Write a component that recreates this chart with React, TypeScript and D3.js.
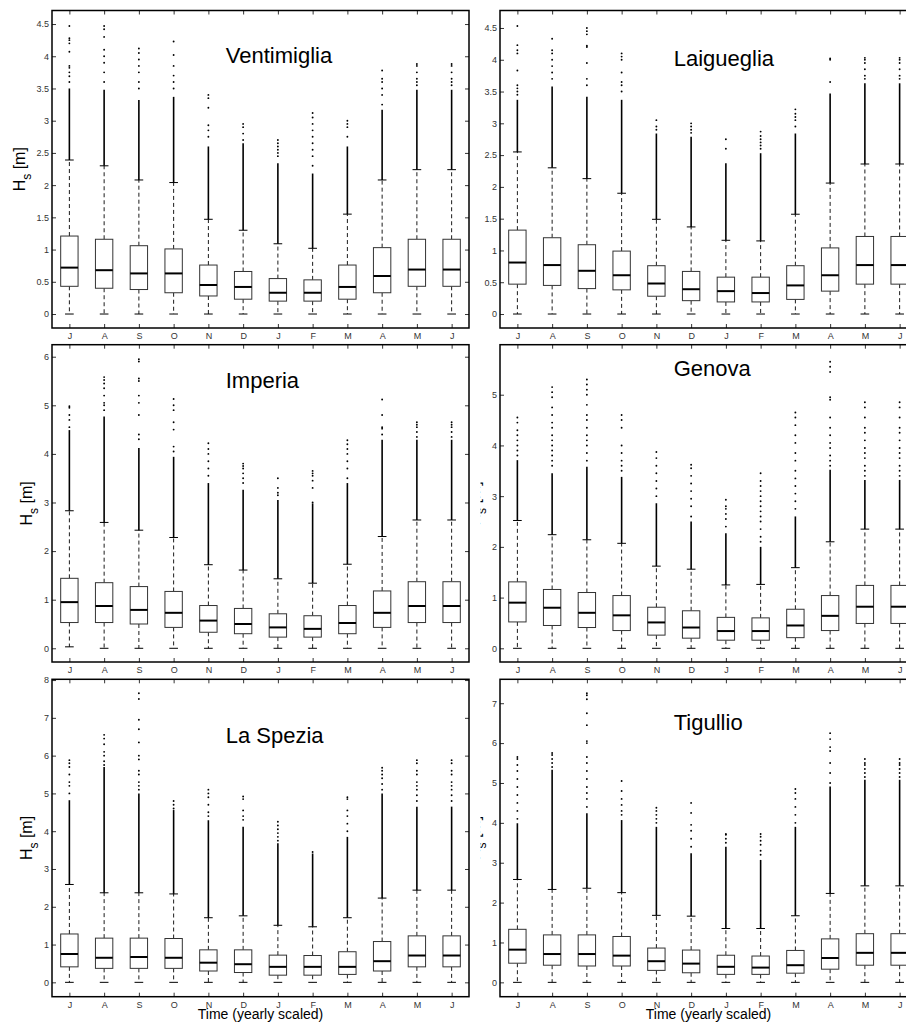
import * as d3 from "d3";
import { useEffect, useRef } from "react";

const months = ["J", "A", "S", "O", "N", "D", "J", "F", "M", "A", "M", "J"];

// each row: [q1, median, q3, lower whisker, upper whisker, top of the dense outlier column]
const ventimigliaBoxes = [
  [0.43, 0.72, 1.21, 0, 2.39, 3.5],
  [0.4, 0.68, 1.16, 0, 2.3, 3.48],
  [0.38, 0.63, 1.06, 0, 2.08, 3.32],
  [0.33, 0.63, 1.01, 0, 2.04, 3.37],
  [0.28, 0.45, 0.76, 0, 1.47, 2.6],
  [0.23, 0.42, 0.66, 0, 1.3, 2.65],
  [0.2, 0.33, 0.55, 0, 1.09, 2.34],
  [0.2, 0.33, 0.53, 0, 1.02, 2.18],
  [0.23, 0.42, 0.76, 0, 1.55, 2.6],
  [0.33, 0.59, 1.03, 0, 2.08, 3.17],
  [0.43, 0.69, 1.16, 0, 2.24, 3.48],
  [0.43, 0.69, 1.16, 0, 2.24, 3.48],
];
const ventimigliaOutliers = [
  [3.6, 3.69, 3.75, 3.82, 3.85, 4.07, 4.2, 4.25, 4.28, 4.47],
  [3.6, 3.75, 3.9, 4.0, 4.1, 4.3, 4.42, 4.47],
  [3.5, 3.6, 3.75, 3.85, 3.95, 4.05, 4.12],
  [3.5, 3.6, 3.7, 3.85, 4.02, 4.23],
  [2.75, 2.85, 2.93, 3.2, 3.35, 3.4],
  [2.7, 2.8, 2.9, 2.95],
  [2.45, 2.5, 2.55, 2.6, 2.65, 2.7],
  [2.3, 2.45, 2.55, 2.65, 2.75, 2.85, 2.95, 3.05, 3.12],
  [2.75, 2.9, 2.95, 3.0],
  [3.25, 3.4, 3.5, 3.6, 3.65, 3.78],
  [3.55, 3.6, 3.65, 3.75, 3.85, 3.88],
  [3.55, 3.6, 3.65, 3.75, 3.85, 3.88],
];

const laiguegliaBoxes = [
  [0.47, 0.81, 1.32, 0, 2.55, 3.37],
  [0.45, 0.77, 1.2, 0, 2.3, 3.58],
  [0.4, 0.68, 1.09, 0, 2.13, 3.42],
  [0.38, 0.61, 0.99, 0, 1.9, 3.37],
  [0.28, 0.48, 0.76, 0, 1.49, 2.84],
  [0.21, 0.39, 0.67, 0, 1.37, 2.79],
  [0.19, 0.36, 0.58, 0, 1.16, 2.37],
  [0.19, 0.33, 0.58, 0, 1.15, 2.53],
  [0.23, 0.45, 0.76, 0, 1.57, 2.84],
  [0.36, 0.61, 1.04, 0, 2.06, 3.47],
  [0.47, 0.77, 1.22, 0, 2.36, 3.63],
  [0.47, 0.77, 1.22, 0, 2.36, 3.63],
];
const laiguegliaOutliers = [
  [3.45, 3.5, 3.55, 3.6, 3.83, 4.1, 4.15, 4.23, 4.53],
  [3.7, 3.8, 3.9, 4.0, 4.1, 4.15, 4.33],
  [3.6, 3.7, 3.95, 4.2, 4.22, 4.4, 4.45, 4.5],
  [3.5, 3.6, 3.65, 3.8, 4.0, 4.05, 4.1],
  [2.9, 2.95, 3.05],
  [2.85, 2.9, 2.95, 3.0],
  [2.6, 2.75],
  [2.6, 2.65, 2.7, 2.75, 2.8, 2.87],
  [2.95, 3.05, 3.1, 3.15, 3.22],
  [3.65, 4.0, 4.02],
  [3.7, 3.75, 3.85, 3.95, 4.0, 4.03],
  [3.7, 3.75, 3.85, 3.95, 4.0, 4.03],
];

const imperiaBoxes = [
  [0.53, 0.95, 1.44, 0.03, 2.83, 4.49],
  [0.53, 0.87, 1.35, 0, 2.59, 4.77],
  [0.5, 0.79, 1.27, 0, 2.43, 4.12],
  [0.43, 0.73, 1.17, 0, 2.28, 3.94],
  [0.33, 0.57, 0.88, 0, 1.72, 3.4],
  [0.3, 0.5, 0.82, 0, 1.61, 3.26],
  [0.23, 0.43, 0.71, 0, 1.43, 3.05],
  [0.23, 0.4, 0.67, 0, 1.34, 2.98],
  [0.3, 0.52, 0.88, 0, 1.73, 3.4],
  [0.43, 0.73, 1.18, 0, 2.3, 4.29],
  [0.53, 0.87, 1.37, 0, 2.64, 4.29],
  [0.53, 0.87, 1.37, 0, 2.64, 4.29],
];
const imperiaOutliers = [
  [4.55, 4.7, 4.8, 4.95, 4.98],
  [4.9, 5.0, 5.05, 5.2, 5.35, 5.45, 5.52, 5.58],
  [4.3, 4.4, 4.8, 5.05, 5.2, 5.5, 5.55, 5.9, 5.95],
  [4.05, 4.15, 4.5, 4.65, 4.9, 5.0, 5.13],
  [3.55, 3.7, 3.85, 4.0, 4.1, 4.22],
  [3.4, 3.5, 3.6, 3.7, 3.75, 3.8],
  [3.15, 3.2, 3.3, 3.5],
  [3.0, 3.3, 3.45, 3.55, 3.6, 3.65],
  [3.5, 3.7, 3.85, 4.0, 4.1, 4.2, 4.28],
  [4.4, 4.52, 4.55, 4.8, 5.12],
  [4.35, 4.45, 4.55, 4.6, 4.65],
  [4.35, 4.45, 4.55, 4.6, 4.65],
];

const genovaBoxes = [
  [0.52, 0.9, 1.31, 0, 2.52, 3.71],
  [0.45, 0.8, 1.16, 0, 2.24, 3.45],
  [0.41, 0.7, 1.1, 0, 2.14, 3.58],
  [0.35, 0.65, 1.04, 0, 2.07, 3.38],
  [0.26, 0.51, 0.81, 0, 1.62, 2.86],
  [0.2, 0.41, 0.74, 0, 1.56, 2.5],
  [0.16, 0.34, 0.61, 0, 1.25, 2.27],
  [0.16, 0.34, 0.6, 0, 1.26, 2.0],
  [0.21, 0.45, 0.77, 0, 1.59, 2.6],
  [0.35, 0.64, 1.04, 0, 2.1, 3.52],
  [0.49, 0.82, 1.24, 0, 2.35, 3.32],
  [0.49, 0.82, 1.24, 0, 2.35, 3.32],
];
const genovaOutliers = [
  [3.8, 3.9, 4.0, 4.1, 4.2, 4.3, 4.45, 4.55],
  [3.6, 3.7, 3.8, 3.9, 4.0, 4.1, 4.2, 4.35, 4.45, 4.6, 4.75, 4.95, 5.05, 5.15],
  [3.7, 3.85, 4.0, 4.1, 4.2, 4.35, 4.5, 4.6, 4.8, 5.0, 5.1, 5.2, 5.3],
  [3.5, 3.6, 3.7, 3.85, 4.0, 4.35, 4.5, 4.6],
  [3.0, 3.15, 3.3, 3.45, 3.6, 3.75, 3.87],
  [2.6, 2.8, 2.95, 3.1, 3.25, 3.4, 3.55, 3.62],
  [2.4, 2.55, 2.65, 2.75, 2.8, 2.93],
  [2.1, 2.2, 2.35, 2.5, 2.6, 2.7, 2.8, 2.9, 3.0, 3.1, 3.2, 3.3, 3.45],
  [2.75, 2.9, 3.05, 3.2, 3.35, 3.5, 3.7, 3.85, 4.05, 4.2, 4.4, 4.55, 4.65],
  [3.6, 3.7, 3.8, 3.95, 4.05, 4.2, 4.35, 4.55, 4.9, 4.95, 5.45, 5.55, 5.65],
  [3.4, 3.5, 3.6, 3.75, 3.85, 3.95, 4.1, 4.25, 4.35, 4.55, 4.75, 4.85],
  [3.4, 3.5, 3.6, 3.75, 3.85, 3.95, 4.1, 4.25, 4.35, 4.55, 4.75, 4.85],
];

const laSpeziaBoxes = [
  [0.41, 0.75, 1.28, 0, 2.59, 4.82],
  [0.37, 0.65, 1.17, 0, 2.37, 5.7],
  [0.37, 0.67, 1.17, 0, 2.37, 5.0],
  [0.37, 0.65, 1.16, 0, 2.34, 4.56],
  [0.3, 0.52, 0.86, 0, 1.71, 4.29],
  [0.26, 0.48, 0.86, 0, 1.76, 4.12],
  [0.19, 0.41, 0.72, 0, 1.51, 3.68],
  [0.19, 0.41, 0.71, 0, 1.47, 3.41],
  [0.21, 0.41, 0.81, 0, 1.71, 3.85],
  [0.3, 0.56, 1.08, 0, 2.23, 5.0],
  [0.41, 0.71, 1.23, 0, 2.44, 4.65],
  [0.41, 0.71, 1.23, 0, 2.44, 4.65],
];
const laSpeziaOutliers = [
  [5.0, 5.2, 5.3, 5.5, 5.7, 5.8, 5.88],
  [5.75, 5.85, 6.0, 6.1, 6.3, 6.45, 6.55],
  [5.1, 5.2, 5.3, 5.5, 5.6, 5.9, 6.0, 6.35, 6.7, 6.95, 7.5, 7.65],
  [4.6, 4.7, 4.8],
  [4.4, 4.5, 4.7, 4.9, 5.0, 5.1],
  [4.3, 4.4, 4.55, 4.85, 4.92],
  [3.75, 3.85, 3.95, 4.05, 4.15, 4.25],
  [3.45],
  [4.0, 4.2, 4.4, 4.55, 4.85, 4.9],
  [5.1, 5.25, 5.4, 5.5, 5.6, 5.68],
  [4.8, 4.95, 5.1, 5.2, 5.3, 5.5, 5.6, 5.8, 5.88],
  [4.8, 4.95, 5.1, 5.2, 5.3, 5.5, 5.6, 5.8, 5.88],
];

const tigullioBoxes = [
  [0.48, 0.82, 1.33, 0, 2.58, 3.99],
  [0.43, 0.71, 1.19, 0, 2.33, 5.33],
  [0.41, 0.71, 1.19, 0, 2.36, 4.24],
  [0.41, 0.67, 1.15, 0, 2.25, 4.07],
  [0.3, 0.53, 0.86, 0, 1.68, 3.9],
  [0.24, 0.47, 0.81, 0, 1.66, 3.24],
  [0.2, 0.39, 0.68, 0, 1.35, 3.4],
  [0.2, 0.37, 0.66, 0, 1.35, 3.07],
  [0.23, 0.43, 0.8, 0, 1.67, 3.9],
  [0.33, 0.61, 1.09, 0, 2.23, 4.91],
  [0.43, 0.74, 1.22, 0, 2.42, 5.08],
  [0.43, 0.74, 1.22, 0, 2.42, 5.08],
];
const tigullioOutliers = [
  [4.1, 4.3, 4.5, 4.7, 4.9, 5.1, 5.3, 5.45, 5.6, 5.65],
  [5.4, 5.5, 5.6, 5.7, 5.75],
  [4.4, 4.6, 4.75, 4.9, 5.1, 5.3, 5.5, 5.65, 6.0, 6.05, 6.45, 6.75, 7.1, 7.2, 7.25],
  [4.2, 4.3, 4.45, 4.6, 4.8, 5.05],
  [4.0, 4.1, 4.2, 4.3, 4.38],
  [3.4, 3.6, 3.8, 3.95, 4.25, 4.5],
  [3.5, 3.6, 3.7, 3.72],
  [3.2, 3.3, 3.45, 3.55, 3.65, 3.72],
  [4.0, 4.2, 4.4, 4.6, 4.75, 4.85],
  [5.0, 5.25, 5.5, 5.8, 5.9, 6.1, 6.25],
  [5.15, 5.25, 5.35, 5.45, 5.5, 5.6],
  [5.15, 5.25, 5.35, 5.45, 5.5, 5.6],
];

const ticksHalf = [0, 0.5, 1, 1.5, 2, 2.5, 3, 3.5, 4, 4.5];
const ticks6 = [0, 1, 2, 3, 4, 5, 6];
const ticks5 = [0, 1, 2, 3, 4, 5];
const ticks8 = [0, 1, 2, 3, 4, 5, 6, 7, 8];
const ticks7 = [0, 1, 2, 3, 4, 5, 6, 7];

const panels = [
  { name: "Ventimiglia", boxes: ventimigliaBoxes, out: ventimigliaOutliers, ylim: [-0.217, 4.71], ticks: ticksHalf, titleY: 4, row: 0, col: 0 },
  { name: "Laigueglia", boxes: laiguegliaBoxes, out: laiguegliaOutliers, ylim: [-0.22, 4.775], ticks: ticksHalf, titleY: 4, row: 0, col: 1 },
  { name: "Imperia", boxes: imperiaBoxes, out: imperiaOutliers, ylim: [-0.282, 6.247], ticks: ticks6, titleY: 5.5, row: 1, col: 0 },
  { name: "Genova", boxes: genovaBoxes, out: genovaOutliers, ylim: [-0.27, 5.986], ticks: ticks5, titleY: 5.5, row: 1, col: 1 },
  { name: "La Spezia", boxes: laSpeziaBoxes, out: laSpeziaOutliers, ylim: [-0.38, 8.02], ticks: ticks8, titleY: 6.5, row: 2, col: 0 },
  { name: "Tigullio", boxes: tigullioBoxes, out: tigullioOutliers, ylim: [-0.36, 7.6], ticks: ticks7, titleY: 6.5, row: 2, col: 1 },
];

const W = 906;
const H = 1024;
const colLeft = [52, 500];
const colRight = [469, 917];
const rowTop = [10.5, 344.7, 679.3];
const rowBottom = [328, 662, 996.7];
// ylabel sits further out when tick labels are wider ("4.5")
const labelGap = [27, 20, 20];
const FONT = "'Liberation Sans', Arial, Helvetica, sans-serif";

export default function App() {
  const svgRef = useRef<SVGSVGElement>(null);

  useEffect(() => {
    const svg = d3.select(svgRef.current);
    svg.selectAll("*").remove();

    // right column y labels are mostly hidden in the original
    svg
      .append("defs")
      .append("clipPath")
      .attr("id", "ylab-clip")
      .append("rect")
      .attr("x", 480.5)
      .attr("y", 0)
      .attr("width", 19)
      .attr("height", H);

    panels.forEach((p) => {
      const x0 = colLeft[p.col];
      const x1 = colRight[p.col];
      const y0 = rowTop[p.row];
      const y1 = rowBottom[p.row];

      const x = d3.scalePoint<number>().domain(d3.range(months.length)).range([x0, x1]).padding(0.5);
      const y = d3.scaleLinear().domain(p.ylim).range([y1, y0]);
      const step = x.step();
      const bw = step * 0.5;
      const cw = step * 0.25;

      const g = svg.append("g");

      //whiskers
      g.selectAll(".wh")
        .data(p.boxes)
        .join("path")
        .attr("d", (b, i) => `M${x(i)},${y(b[2])}V${y(b[4])}M${x(i)},${y(b[0])}V${y(b[3])}`)
        .attr("stroke", "#000")
        .attr("stroke-width", 0.9)
        .attr("stroke-dasharray", "4,3")
        .attr("fill", "none");

      //caps
      g.selectAll(".cap")
        .data(p.boxes)
        .join("path")
        .attr(
          "d",
          (b, i) =>
            `M${x(i)! - cw / 2},${y(b[4])}h${cw}M${x(i)! - cw / 2},${y(b[3])}h${cw}`
        )
        .attr("stroke", "#000")
        .attr("stroke-width", 1)
        .attr("fill", "none");

      //dense outliers
      g.selectAll(".dense")
        .data(p.boxes)
        .join("line")
        .attr("x1", (b, i) => x(i)!)
        .attr("x2", (b, i) => x(i)!)
        .attr("y1", (b) => y(b[4]))
        .attr("y2", (b) => y(b[5]))
        .attr("stroke", "#000")
        .attr("stroke-width", 1.6);

      //sparse outliers
      p.out.forEach((vals, i) => {
        g.selectAll(`.o${i}`)
          .data(vals)
          .join("circle")
          .attr("cx", x(i)!)
          .attr("cy", (v) => y(v))
          .attr("r", 0.95)
          .attr("fill", "#000");
      });

      //boxes
      g.selectAll(".box")
        .data(p.boxes)
        .join("rect")
        .attr("x", (b, i) => x(i)! - bw / 2)
        .attr("y", (b) => y(b[2]))
        .attr("width", bw)
        .attr("height", (b) => y(b[0]) - y(b[2]))
        .attr("fill", "#fff")
        .attr("stroke", "#333")
        .attr("stroke-width", 1);

      //medians
      g.selectAll(".med")
        .data(p.boxes)
        .join("line")
        .attr("x1", (b, i) => x(i)! - bw / 2)
        .attr("x2", (b, i) => x(i)! + bw / 2)
        .attr("y1", (b) => y(b[1]))
        .attr("y2", (b) => y(b[1]))
        .attr("stroke", "#000")
        .attr("stroke-width", 2);

      //axes, ticks inward
      const styleAxis = (a: any) => {
        a.select(".domain").remove();
        a.attr("font-family", FONT).attr("font-size", 9);
        a.selectAll("line").attr("stroke", "#000").attr("stroke-width", 0.8);
        a.selectAll("text").attr("fill", "#333");
      };
      g.append("g")
        .attr("transform", `translate(${x0},0)`)
        .call(d3.axisLeft(y).tickValues(p.ticks).tickSize(-4).tickPadding(3).tickFormat((d) => `${d}`))
        .call(styleAxis);
      g.append("g")
        .attr("transform", `translate(${x1},0)`)
        .call(d3.axisRight(y).tickValues(p.ticks).tickSize(-4).tickFormat(() => ""))
        .call(styleAxis);
      g.append("g")
        .attr("transform", `translate(0,${y1})`)
        .call(d3.axisBottom(x).tickSize(-4).tickPadding(5).tickFormat((d) => months[d as number]))
        .call(styleAxis);
      g.append("g")
        .attr("transform", `translate(0,${y0})`)
        .call(d3.axisTop(x).tickSize(-4).tickFormat(() => ""))
        .call(styleAxis);

      //frame
      g.append("rect")
        .attr("x", x0)
        .attr("y", y0)
        .attr("width", x1 - x0)
        .attr("height", y1 - y0)
        .attr("fill", "none")
        .attr("stroke", "#000")
        .attr("stroke-width", 1.5);

      //station name
      g.append("text")
        .attr("x", x(4)! + step / 2)
        .attr("y", y(p.titleY))
        .attr("dy", "0.3em")
        .attr("font-family", FONT)
        .attr("font-size", 22)
        .attr("fill", "#000")
        .text(p.name);

      //y label
      const lab = svg.append("g");
      if (p.col === 1) lab.attr("clip-path", "url(#ylab-clip)");
      const t = lab
        .append("text")
        .attr("transform", `translate(${x0 - labelGap[p.row]},${(y0 + y1) / 2}) rotate(-90)`)
        .attr("text-anchor", "middle")
        .attr("font-family", FONT)
        .attr("font-size", 16)
        .attr("fill", "#000");
      t.append("tspan").text("H");
      t.append("tspan").attr("dy", 5.5).attr("font-size", 12).text("s");
      t.append("tspan").attr("dy", -5.5).text(" [m]");

      //x label
      if (p.row === 2) {
        svg
          .append("text")
          .attr("x", (x0 + x1) / 2)
          .attr("y", 1019)
          .attr("text-anchor", "middle")
          .attr("font-family", FONT)
          .attr("font-size", 14)
          .attr("fill", "#000")
          .text("Time (yearly scaled)");
      }
    });
  }, []);

  return (
    <div>
      <style>{`body{margin:0;overflow:hidden}`}</style>
      <svg ref={svgRef} width={W} height={H} style={{ display: "block", background: "#fff" }}></svg>
    </div>
  );
}
